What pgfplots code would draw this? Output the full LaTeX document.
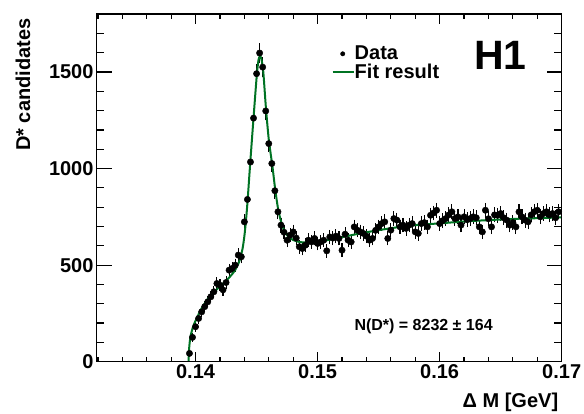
\documentclass[border=0pt]{standalone}
\usepackage{pgfplots}
\pgfplotsset{compat=1.18}
\usepackage{pgfplotstable}
\usepackage{fontspec}
\setmainfont{Liberation Sans}
\setsansfont{Liberation Sans}
\definecolor{fitgreen}{RGB}{0,115,35}

\pgfplotsset{
    dataleg/.style={legend image code/.code={\path (0pt,0pt) (21pt,0pt);
        \draw[##1, mark size=2.2pt] plot coordinates {(10pt,0pt)};}},
    fitleg/.style={legend image code/.code={\draw[##1] (0pt,0pt) -- (21pt,0pt);}},
}

% D* candidates per Delta M bin: x, entries, error
\pgfplotstableread{
x y e
0.13950 43 9
0.13975 126 13
0.14000 181 15
0.14025 224 16
0.14050 258 17
0.14075 285 18
0.14100 310 18
0.14125 336 19
0.14150 362 20
0.14175 405 21
0.14200 396 21
0.14225 372 20
0.14250 410 21
0.14275 474 22
0.14300 483 23
0.14325 500 23
0.14350 552 24
0.14375 543 24
0.14400 724 28
0.14425 840 30
0.14450 1034 33
0.14475 1261 36
0.14500 1491 39
0.14525 1598 41
0.14550 1525 40
0.14575 1298 37
0.14600 1129 34
0.14625 1026 33
0.14650 885 31
0.14675 776 29
0.14700 707 28
0.14725 670 27
0.14750 629 26
0.14775 655 26
0.14800 672 27
0.14825 640 26
0.14850 595 25
0.14875 586 25
0.14900 603 25
0.14925 629 26
0.14950 620 26
0.14975 638 26
0.15000 612 25
0.15025 620 26
0.15050 629 26
0.15075 574 25
0.15100 646 26
0.15125 640 26
0.15150 650 26
0.15175 638 26
0.15200 577 25
0.15225 660 26
0.15250 629 26
0.15275 620 26
0.15300 698 27
0.15325 681 27
0.15350 672 27
0.15375 664 27
0.15400 650 26
0.15425 629 26
0.15450 638 26
0.15475 680 27
0.15500 698 27
0.15525 715 27
0.15550 724 28
0.15575 638 26
0.15600 681 27
0.15625 741 28
0.15650 733 28
0.15675 698 27
0.15700 707 27
0.15725 690 27
0.15750 707 27
0.15775 715 27
0.15800 672 27
0.15825 664 27
0.15850 715 27
0.15875 720 27
0.15900 698 27
0.15925 758 28
0.15950 770 28
0.15975 784 28
0.16000 715 27
0.16025 730 28
0.16050 741 28
0.16075 760 28
0.16100 776 28
0.16125 741 28
0.16150 750 28
0.16175 707 27
0.16200 750 28
0.16225 735 28
0.16250 741 28
0.16275 750 28
0.16300 745 28
0.16325 698 27
0.16350 672 27
0.16375 784 28
0.16400 740 28
0.16425 698 27
0.16450 760 28
0.16475 758 28
0.16500 767 28
0.16525 745 28
0.16550 733 28
0.16575 707 27
0.16600 720 27
0.16625 698 27
0.16650 776 28
0.16675 750 28
0.16700 733 28
0.16725 724 28
0.16750 760 28
0.16775 776 28
0.16800 784 28
0.16825 750 28
0.16850 767 28
0.16875 776 28
0.16900 760 28
0.16925 767 28
0.16950 745 28
0.16975 776 28
}\dstar

\begin{document}
\begin{tikzpicture}
\path[use as bounding box] (-96.7pt,-51.3pt) rectangle (487.3pt,361.7pt);

% main axis: data, fit, y ticks, legend
\begin{axis}[
    at={(0pt,0pt)}, anchor=south west,
    scale only axis, width=465pt, height=347.7pt,
    xmin=0.1319, xmax=0.17, ymin=0, ymax=1800,
    xtick=\empty,
    ytick={0,500,1000,1500},
    minor ytick={100,200,300,400,600,700,800,900,1100,1200,1300,1400,1600,1700},
    tick align=inside,
    major tick length=15pt, minor tick length=7.5pt,
    tick style={black, line width=1.2pt},
    axis line style={line width=1.4pt},
    /pgf/number format/assume math mode=true,
    yticklabel style={font=\fontsize{20}{24}\selectfont\bfseries, inner sep=3pt,
        /pgf/number format/1000 sep={}},
    ylabel={D* candidates},
    ylabel style={at={(axis description cs:-0.143,0.997)}, anchor=base east,
        font=\fontsize{20}{24}\selectfont\bfseries},
    legend cell align=left,
    legend style={at={(rel axis cs:0.505,0.908)}, anchor=north west,
        draw=none, fill=none, inner sep=0pt, row sep=2.8pt,
        nodes={inner sep=0pt},
        /tikz/every even column/.append style={column sep=6pt},
        font=\fontsize{20}{20}\selectfont\bfseries},
]
\addplot[black, only marks, mark=*, mark size=3.2pt, dataleg,
    error bars/.cd, y dir=both, y explicit,
    error bar style={line width=1.1pt},
    error mark options={black, line width=1.1pt, mark size=2pt}]
    table[x=x, y=y, y error=e]{\dstar};
\addlegendentry{Data}

\addplot[fitgreen, line width=2pt, smooth, tension=0.4, fitleg]
    coordinates {
    (0.13943,0) (0.13946,55) (0.13952,100) (0.13962,140) (0.13975,172)
    (0.13990,198) (0.14010,225) (0.14044,270) (0.14100,325) (0.14180,378)
    (0.14260,425) (0.14320,470) (0.14360,522) (0.14385,585) (0.14400,650)
    (0.14413,730) (0.14426,830) (0.14448,1030) (0.14475,1262) (0.14500,1470)
    (0.14515,1560) (0.14528,1582) (0.14540,1565) (0.14555,1500) (0.14577,1310)
    (0.14600,1150) (0.14630,1010) (0.14653,890) (0.14678,785) (0.14710,705)
    (0.14750,655) (0.14800,630) (0.14850,620) (0.14900,617) (0.15000,620)
    (0.15100,632) (0.15200,645) (0.15300,658) (0.15400,670) (0.15500,681)
    (0.15600,691) (0.15700,700) (0.15800,707) (0.15900,712) (0.16000,716)
    (0.16200,726) (0.16400,733) (0.16600,739) (0.16800,743) (0.17000,747)
    };
\addlegendentry{Fit result}

\node[font=\fontsize{41}{41}\selectfont\bfseries] at (rel axis cs:0.868,0.880) {H1};
\node[font=\fontsize{16}{19}\selectfont\bfseries] at (rel axis cs:0.703,0.103)
    {N(D*) = 8232 ± 164};
\end{axis}

% second axis: x ticks with their own lengths
\begin{axis}[
    at={(0pt,0pt)}, anchor=south west,
    scale only axis, width=465pt, height=347.7pt,
    xmin=0.1319, xmax=0.17, ymin=0, ymax=1800,
    ytick=\empty,
    xtick={0.14,0.15,0.16,0.17},
    minor xtick={0.132,0.134,0.136,0.138,0.142,0.144,0.146,0.148,0.152,0.154,
        0.156,0.158,0.162,0.164,0.166,0.168},
    tick align=inside,
    major tick length=10pt, minor tick length=5pt,
    tick style={black, line width=1.2pt},
    axis line style={line width=1.4pt},
    scaled x ticks=false,
    /pgf/number format/assume math mode=true,
    xticklabel style={font=\fontsize{20}{24}\selectfont\bfseries, inner sep=3pt,
        /pgf/number format/.cd, fixed, fixed zerofill, precision=2},
    xlabel={Δ M [GeV]},
    xlabel style={at={(axis description cs:1,-0.1317)}, anchor=base east,
        font=\fontsize{20}{24}\selectfont\bfseries},
]
\end{axis}
\end{tikzpicture}
\end{document}
